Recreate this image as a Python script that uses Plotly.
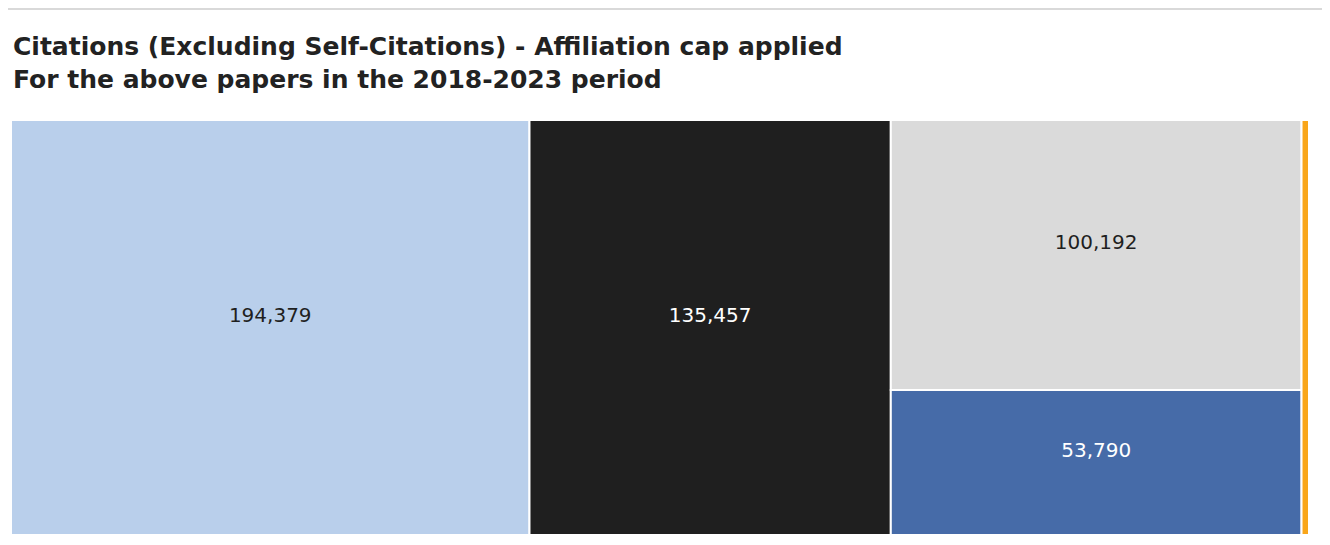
import plotly.graph_objects as go

labels = ["A", "B", "C", "D", "E"]
values = [194379, 135457, 100192, 53790, 2800]
colors = ["#B9CFEB", "#1F1F1F", "#DADADA", "#466BA8", "#F9A61A"]
text_colors = ["#1F1F1F", "#FFFFFF", "#1F1F1F", "#FFFFFF", "#1F1F1F"]

title1 = "Citations (Excluding Self-Citations) - Affiliation cap applied"
title2 = "For the above papers in the 2018-2023 period"

# page body has an 8px margin; figure-local coordinates = screen - 8
W, H = 1318, 529
ml, mt = 3, 112
mr = W - 1301
mb = H - 527
PH = H - mt - mb
PW = W - ml - mr

FONT = "DejaVu Sans, Verdana, sans-serif"

fig = go.Figure(go.Treemap(
    ids=labels,
    labels=labels,
    parents=[""] * len(labels),
    values=values,
    sort=False,
    texttemplate="%{value:,.0f}<br>&nbsp;",
    textposition="middle center",
    textfont=dict(family=FONT, size=20, color=text_colors),
    marker=dict(colors=colors, line=dict(color="white", width=2), pad=dict(t=0, l=0, r=0, b=0)),
    tiling=dict(packing="squarify", squarifyratio=1.618, pad=0),
    pathbar=dict(visible=False),
    hoverinfo="label+value",
))

fig.update_layout(
    width=W, height=H,
    margin=dict(l=ml, r=mr, t=mt, b=mb),
    paper_bgcolor="white",
    plot_bgcolor="white",
    showlegend=False,
    font=dict(family=FONT),
    annotations=[
        dict(text="<b>" + title1 + "</b>", xref="paper", yref="paper",
             x=0, y=1 + (mt - 38) / PH, xanchor="left", yanchor="middle",
             showarrow=False, font=dict(size=25, color="#222222")),
        dict(text="<b>" + title2 + "</b>", xref="paper", yref="paper",
             x=0, y=1 + (mt - 72) / PH, xanchor="left", yanchor="middle",
             showarrow=False, font=dict(size=25, color="#222222")),
    ],
    shapes=[
        dict(type="rect", xref="paper", yref="paper", layer="above",
             x0=-(ml + 20) / PW, x1=(W - 3 - ml) / PW,
             y0=-(mb + 20) / PH, y1=1 + (mt - 1) / PH,
             fillcolor="rgba(0,0,0,0)",
             line=dict(color="#D9D9D9", width=2)),
    ],
)

fig.write_html("out.html")
